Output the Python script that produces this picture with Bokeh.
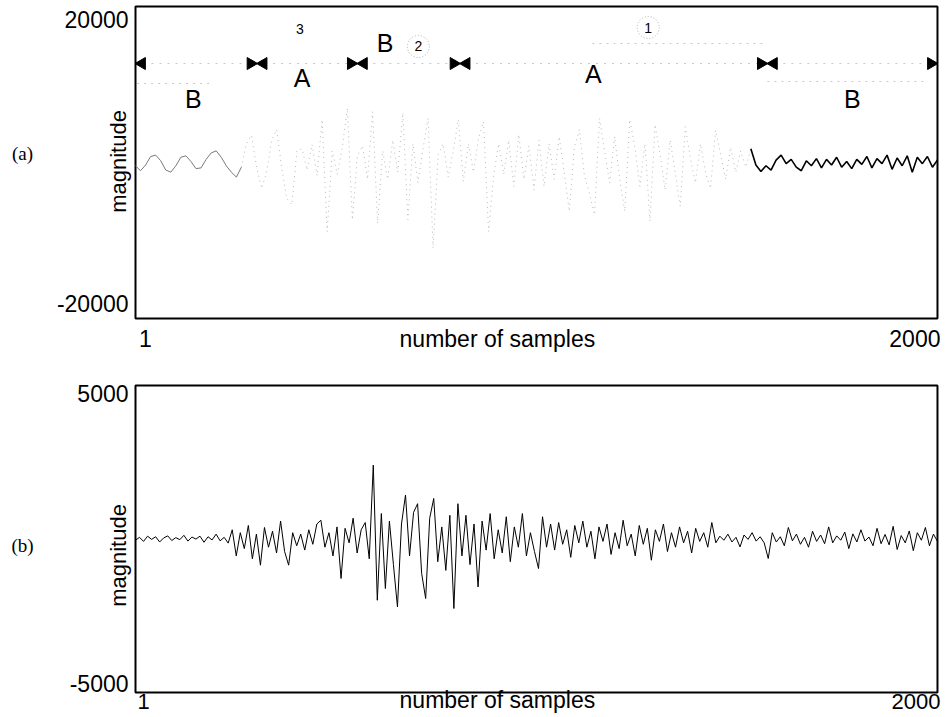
import numpy as np
from bokeh.plotting import figure
from bokeh.layouts import column
from bokeh.models import Range1d, Label
from bokeh.embed import file_html
from bokeh.resources import INLINE

# ---------------- data ----------------
# (a) original signal, 160 readings across samples 1..2000
sig_a = [
    -600, -1300, -500, 700, 900, 100, -1200, -1500, -600, 600, 800, 0, -1000, -900, 300, 1200, 1500,
    600, -600, -1500, -2200, -800,
    2500, 3700, -800, -3800, -1500, 3000, 4500, -1000, -5200, -6100, 1500,
    1800, -1200, 2400, -2000, 5900, -9900, 1500, -1800, 2000, 7500, -8200, 800, 2200, -2500, 7000, -8700,
    1500, -2500, 3000, -1500, 6800, -8200, 2500, -3000, 1800, 6100, -12200, 1000, 2500, -2200, 1500, 5900, -2800,
    2500, -1500, 3200, 5600, -9900, -2000, 2500, -1800, 3000, -3500, 3800, -2500, 2200, -4000, 3000, -3500, 2500,
    -2500, 3500, -1500, -7000, 2000, 4500, -2000, -4500, -7500, 6100,
    1500, -3000, 3500, -2500, -7000, 5900, 2000, -3500, 2500, -8400,
    5200, 1000, -4000, 3000, -1500, -6300, 4900, 500, -3000, 2500,
    -1500, -3800, 4400, 1000, -2500, 2000, -1500, 1500, -800, 1800,
    -500, -1400, -600, -1200, 200, 900, -300, 300, -800, -1300,
    100, -600, 400, -900, 300, -500, 600, -800, 0, -1000,
    300, -400, 700, -900, 400, -300, 900, -1100, 500, -600,
    800, -1500, 600, -300, 700, -800, 200,
]
# indices where the printed tone of trace (a) changes
trace_split = [21, 122]

# (b) processed signal, 200 readings across samples 1..2000
sig_b = [
    -60, 40, -100, 80, -30, 60, -120, 20, 90, -70, 30, -40, 110, -90, 50, -20, 80, -130, 60, -50, 150, -80, 40, -160,
    300, -600, 200, -350, 450, -700, 150, -920, 380, -300, 250, -500, 600, -450, -920, 200, -250,
    150, -400, 300, -200, 500, 630, -300, 200, -600, 400, -1380, 350, -150, 700, -500, 300, 550, -700,
    2530, -2130, 860, -1725, 600, -900,
    -2360, 500, 1500, -600, 900, 1200, -1200, -2070, 700, 1380, -800, 400, -1100, 800, -2415, 1200,
    -600, 800, -900, 500, -1670, 600, -400, 860, -700, 300, -500, 750, -800, 400, -300, 860, -600, 200, -450, -1035, 750, -300, 500,
    -400, 550, -200, 300, -650, 450, -150, 600, -300, 250, -700, 400, -100, 500, -550, 200, -350, 630, -250, 150,
    -600, 450, -200, 350, -750, 300, -100, 500, -450, 200, -300, 400, -150, 250, -500, 350, -100, 200, -300, 550, -150,
    80, -60, 150, -120, 40, -290, 120, -30, 200, -90, 60, -150,
    -690,
    200, -120, 60, -250, 380, -80, 150, -200, 40, -300, 250, -100, 120, -180, 400, -150, 90, -60, 220, -350,
    160, -120, 300, -90, 50, -250, 350, -180, 140, -220, 420, -380, 100, -150, 260, -420, 200, -60, 380, -250,
    150, -100,
]

# segmentation of (a): boundaries (sample numbers) and region names
seg_bounds = [1, 304, 554, 810, 1576, 2000]
seg_names = ["B", "A", "B", "A", "B"]
seg_name_x = [145, 416, 623, 1142, 1788]
seg_name_y = [8870, 11830, 16620, 12390, 8870]
arrow_y = 13800
# small numbered marks
mark_text = ["1", "2", "3"]
mark_x = [1279, 706, 411]
mark_y = [18870, 16200, 18730]
mark_circled = [True, True, False]

x_tick_labels = ["1", "2000"]
ya_ticks = [20000, -20000]
yb_ticks = [5000, -5000]
ya_box = (-22113, 21831)
yb_box = (-5310, 5276)

FONT = "Liberation Sans"
SERIF = "Liberation Serif"
X_RANGE = (-335.5, 2015)


def label(p, x, y, text, size, align="center", baseline="middle", font=FONT,
          angle=0.0, x_offset=0, color="black"):
    p.add_layout(Label(x=x, y=y, text=text, text_font=font,
                       text_font_size=f"{size}px", text_align=align,
                       text_baseline=baseline, angle=angle, x_offset=x_offset,
                       text_color=color))


def make_fig(height, yr, box):
    p = figure(width=943, height=height, x_range=Range1d(*X_RANGE), y_range=Range1d(*yr),
               x_axis_location=None, y_axis_location=None, toolbar_location=None,
               output_backend="svg", min_border_left=0, min_border_right=0,
               min_border_top=0, min_border_bottom=0)
    p.grid.grid_line_color = None
    p.outline_line_color = None
    p.background_fill_color = "white"
    p.border_fill_color = "white"
    # the panel's frame
    p.quad(left=[1], right=[2000], bottom=[box[0]], top=[box[1]],
           fill_color=None, line_color="black", line_width=2)
    return p


# ---------------- panel (a) ----------------
pa = make_fig(359, (-27887, 22676), ya_box)
xa = np.linspace(1, 2000, len(sig_a))
ya = np.array(sig_a, dtype=float)
s0, s1 = trace_split
pa.line(xa[:s0 + 1], ya[:s0 + 1], line_color="#7a7a7a", line_width=1)
pa.line(xa[s0:s1 + 1], ya[s0:s1 + 1], line_color="#b8b8b8", line_width=1, line_dash="1 4")
pa.line(xa[s1:], ya[s1:], line_color="black", line_width=1.6)

# segment lines and arrowheads
pa.segment(x0=seg_bounds[:-1], y0=[arrow_y] * 5, x1=seg_bounds[1:], y1=[arrow_y] * 5,
           line_color="#c8c8c8", line_width=1, line_dash="2 6")
d = 16
left_x = [b + d for b in seg_bounds[:-1]]
right_x = [b - d for b in seg_bounds[1:]]
pa.scatter(left_x, [arrow_y] * len(left_x), marker="triangle", size=12,
           angle=np.pi / 2, color="black")
pa.scatter(right_x, [arrow_y] * len(right_x), marker="triangle", size=12,
           angle=-np.pi / 2, color="black")
# faint dotted guide lines
pa.segment(x0=[1140, 1576, 5], y0=[16620, 11270, 10980], x1=[1576, 1970, 190], y1=[16620, 11270, 10980],
           line_color="#c8c8c8", line_width=1, line_dash="2 5")

for n, x, y in zip(seg_names, seg_name_x, seg_name_y):
    label(pa, x, y, n, 25)
for t, x, y in zip(mark_text, mark_x, mark_y):
    label(pa, x, y, t, 14)
cx = [x for x, c in zip(mark_x, mark_circled) if c]
cy = [y for y, c in zip(mark_y, mark_circled) if c]
pa.scatter(cx, cy, marker="circle", size=22, fill_color=None, line_color="#b0b0b0",
           line_dash="1 2", line_width=1)

label(pa, 1, ya_ticks[0], "20000", 23, align="right", x_offset=-7)
label(pa, 1, ya_ticks[1], "-20000", 23, align="right", x_offset=-7)
label(pa, 1, 0, "magnitude", 22, angle=np.pi / 2, x_offset=-17)
label(pa, 1, 1100, "(a)", 19, font=SERIF, x_offset=-113)
label(pa, 1, -24930, x_tick_labels[0], 23, x_offset=10)
label(pa, 2000, -24930, x_tick_labels[1], 23, align="right", x_offset=3)
label(pa, 903, -24930, "number of samples", 23)

# ---------------- panel (b) ----------------
pb = make_fig(357, (-6138, 6172), yb_box)
xb = np.linspace(1, 2000, len(sig_b))
pb.line(xb, sig_b, line_color="black", line_width=1)

label(pb, 1, yb_ticks[0], "5000", 23, align="right", x_offset=-7)
label(pb, 1, yb_ticks[1], "-5000", 23, align="right", x_offset=-7)
label(pb, 1, -586, "magnitude", 22, angle=np.pi / 2, x_offset=-17)
label(pb, 1, -241, "(b)", 19, font=SERIF, x_offset=-113)
label(pb, 1, -5620, x_tick_labels[0], 22, x_offset=8)
label(pb, 2000, -5620, x_tick_labels[1], 22, align="right", x_offset=3)
label(pb, 903, -5560, "number of samples", 23)

layout = column(pa, pb, spacing=0)
open("out.html", "w").write(file_html(layout, INLINE))
